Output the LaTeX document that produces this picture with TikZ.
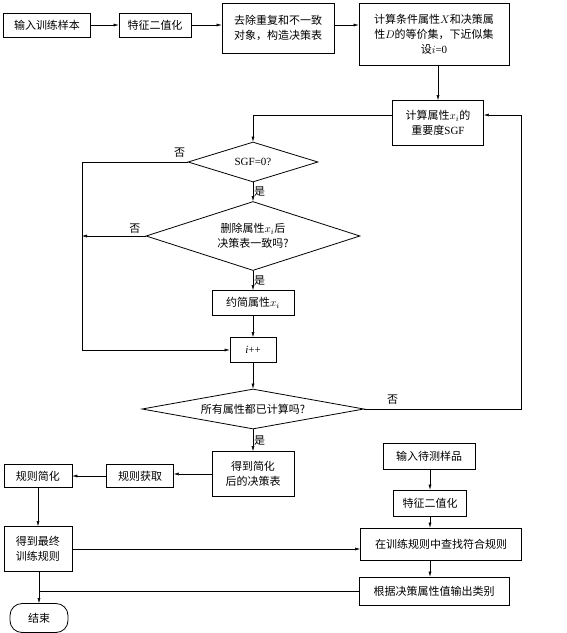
\documentclass[tikz,border=0pt]{standalone}
\usepackage{fontspec}
\setmainfont{Noto Sans CJK SC}
\newfontfamily\latfont{Liberation Serif}
\usetikzlibrary{positioning,arrows.meta,shapes.geometric}

\begin{document}
\begin{tikzpicture}[x=1pt,y=-1pt,>={Latex[length=5pt,width=3pt]},
  font=\fontsize{11}{15}\selectfont,
  box/.style={draw,line width=0.8pt,inner sep=1pt,align=center},
  dec/.style={draw,diamond,line width=0.8pt,inner sep=0pt,align=center},
  lbl/.style={inner sep=1pt}]
  \useasboundingbox (0,0) rectangle (566,633);

  % training part
  \node[box,minimum width=87pt,minimum height=24pt] (in) at (47,25) {输入训练样本};
  \node[box,minimum width=72pt,minimum height=24pt] (bin) at (155,25) {特征二值化};
  \node[box,minimum width=112pt,minimum height=50pt] (dedup) at (278,28) {去除重复和不一致\\对象，构造决策表};
  \node[box,minimum width=150pt,minimum height=62pt] (equiv) at (434,34)
    {计算条件属性$X$和决策属\\性$D$的等价集，下近似集\\设$i${\latfont =0}};
  \node[box,minimum width=91pt,minimum height=45pt] (sgf) at (438,123) {计算属性$x_i$的\\重要度{\latfont SGF}};
  \node[dec,aspect=3.25,minimum width=130pt,minimum height=40pt] (d1) at (253,162) {{\latfont SGF=0?}};
  \node[dec,aspect=3.1,minimum width=214pt,minimum height=69pt] (d2) at (253,236) {删除属性$x_i$后\\决策表一致吗?};
  \node[box,minimum width=82pt,minimum height=25pt] (red) at (253,303) {约简属性$x_i$};
  \node[box,minimum width=46pt,minimum height=25pt] (ipp) at (253,350) {{\latfont\itshape i}{\latfont ++}};
  \node[dec,aspect=5.55,minimum width=222pt,minimum height=40pt] (d3) at (253,409) {所有属性都已计算吗?};
  \node[box,minimum width=82pt,minimum height=45pt] (simp) at (253,474) {得到简化\\后的决策表};
  \node[box,minimum width=67pt,minimum height=23pt] (rget) at (140,476) {规则获取};
  \node[box,minimum width=68pt,minimum height=23pt] (rsimp) at (38,476) {规则简化};
  \node[box,minimum width=68pt,minimum height=45pt] (final) at (38,549) {得到最终\\训练规则};
  \node[box,rounded corners=12pt,minimum width=58pt,minimum height=29pt] (stop) at (39,618) {结束};

  % test part
  \node[box,minimum width=92pt,minimum height=26pt] (tin) at (429,456) {输入待测样品};
  \node[box,minimum width=73pt,minimum height=26pt] (bin2) at (430,503) {特征二值化};
  \node[box,minimum width=161pt,minimum height=32pt] (find) at (441,544) {在训练规则中查找符合规则};
  \node[box,minimum width=150pt,minimum height=28pt] (out) at (434,591) {根据决策属性值输出类别};

  \coordinate (lt) at (82,162);
  \coordinate (rt) at (521,409);

  \draw[->] (in) -- (bin);
  \draw[->] (bin.east) -- (bin.east -| dedup.west);
  \draw[->] (dedup.east |- bin) -- (bin -| equiv.west);
  \draw[->] (equiv.south -| sgf) -- (sgf);
  \draw[->] ([yshift=8pt]sgf.west) -| (d1.north);
  \draw[->] (d1) -- node[right,lbl] {是} (d2);
  \draw[->] (d1.west) -- node[pos=0.075,above=3pt,lbl] {否} (lt) |- (ipp.west);
  \draw[->] (d2.west) -- node[pos=0.17,above=1pt,lbl] {否} (d2.west -| lt);
  \draw[->] (d2) -- node[right,lbl] {是} (red);
  \draw[->] (red) -- (ipp);
  \draw[->] (ipp) -- (d3);
  \draw[->] (d3.east) -- node[pos=0.18,above=3pt,lbl] {否} (rt) |- ([yshift=8pt]sgf.east);
  \draw[->] (d3) -- node[right,lbl] {是} (simp);
  \draw[->] (simp.west) -- (simp.west -| rget.east);
  \draw[->] (rget) -- (rsimp);
  \draw[->] (rsimp) -- (final);
  \draw[->] (final.east) -- (final.east -| find.west);
  \draw[->] (final.south -| stop) -- (stop);
  \draw (out.west) -- (out.west -| stop);

  \draw[->] (tin.south -| bin2) -- (bin2);
  \draw[->] (bin2.south) -- (bin2.south |- find.north);
  \draw[->] (find.south -| bin2) -- (bin2 |- out.north);
\end{tikzpicture}
\end{document}
